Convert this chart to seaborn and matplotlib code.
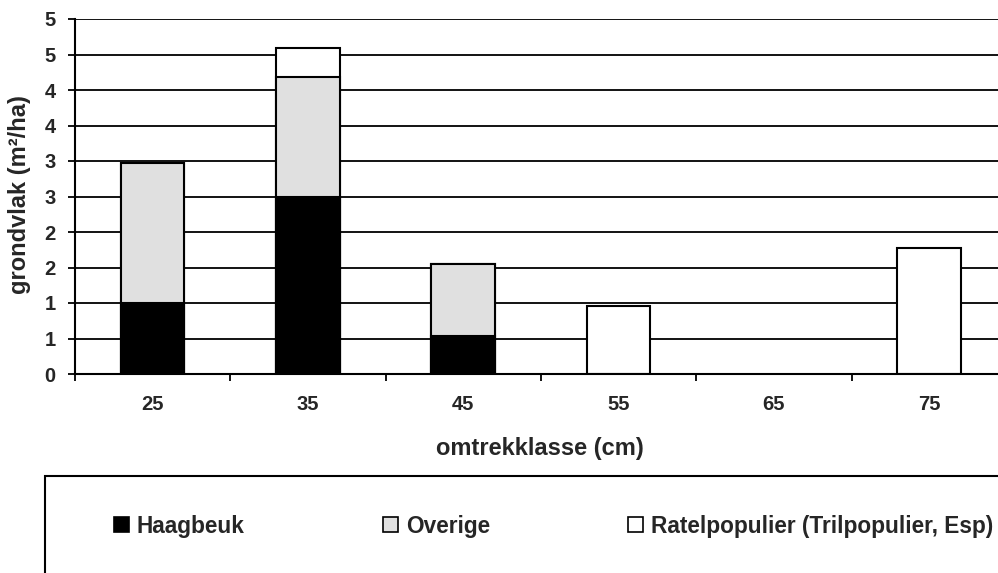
import matplotlib
matplotlib.use("Agg")
import matplotlib.pyplot as plt
import matplotlib.patches as mpatches
import numpy as np
import pandas as pd
import seaborn as sns

# Basal area per girth class, split by species group
classes = ["25", "35", "45", "55", "65", "75"]
haagbeuk = [1.00, 2.50, 0.53, 0.00, 0.00, 0.00]
overige = [1.97, 1.69, 1.02, 0.00, 0.00, 0.00]
ratelpopulier = [0.00, 0.40, 0.00, 0.96, 0.00, 1.77]

series_names = ["Haagbeuk", "Overige", "Ratelpopulier (Trilpopulier, Esp)"]
series_colors = ["#000000", "#E0E0E0", "#FFFFFF"]

y_ticks = [0, 0.5, 1, 1.5, 2, 2.5, 3, 3.5, 4, 4.5, 5]
y_ticklabels = ["0", "1", "1", "2", "2", "3", "3", "4", "4", "5", "5"]

x_title = "omtrekklasse (cm)"
y_title = "grondvlak (m²/ha)"

sns.set_theme(style="white")
plt.rcParams["font.family"] = ["Liberation Sans", "DejaVu Sans"]
plt.rcParams["font.weight"] = "bold"

TICK_FS = 14.5
TITLE_FS = 17
LEGEND_FS = 16.3

W, H = 998, 573
fig = plt.figure(figsize=(W / 100, H / 100), dpi=100)
fig.patch.set_facecolor("white")

# plot area: left edge at x=75, zero line at y=374, top at y=19; right edge runs past the canvas
cat_w = 155.3
left_px, right_px = 75, 75 + 6 * cat_w
top_px, bottom_px = 19, 374
ax = fig.add_axes([left_px / W, 1 - bottom_px / H,
                   (right_px - left_px) / W, (bottom_px - top_px) / H])
ax.set_facecolor("white")

df = pd.DataFrame({
    "klasse": classes,
    "Haagbeuk": haagbeuk,
    "Overige": overige,
    "Ratel": ratelpopulier,
})
# cumulative heights, drawn back to front so each layer covers the one behind it
df["top_ratel"] = df["Haagbeuk"] + df["Overige"] + df["Ratel"]
df["top_overige"] = df["Haagbeuk"] + df["Overige"]
df["top_haag"] = df["Haagbeuk"]

for col, color in zip(["top_ratel", "top_overige", "top_haag"], series_colors[::-1]):
    sns.barplot(data=df, x="klasse", y=col, order=classes, color=color,
                edgecolor="black", linewidth=1.5, width=0.41, saturation=1,
                ax=ax, zorder=3)

# hide zero-height bars so they leave no outline on the axis
for cont in ax.containers:
    for p in cont.patches:
        if p.get_height() <= 0:
            p.set_visible(False)

ax.set_xlim(-0.5, 5.5)
ax.set_ylim(0, 5)
ax.set_yticks(y_ticks)
ax.set_yticklabels(y_ticklabels)
ax.yaxis.grid(True, color="black", linewidth=1.3, zorder=0)
ax.xaxis.grid(False)
ax.set_axisbelow(True)

# category labels in the middle, tick marks on the class boundaries
ax.set_xticks(range(len(classes)))
ax.set_xticklabels(classes)
ax.set_xticks(np.arange(-0.5, 6.0, 1.0), minor=True)
ax.tick_params(axis="x", which="major", length=0, pad=15, labelsize=TICK_FS)
ax.tick_params(axis="x", which="minor", length=5, width=1.3, color="black", direction="out", bottom=True)
ax.tick_params(axis="y", which="major", length=5, width=1.3, color="black", direction="out",
               left=True, pad=9, labelsize=TICK_FS)
for lab in ax.get_xticklabels() + ax.get_yticklabels():
    lab.set_fontweight("bold")

for side in ["top", "right"]:
    ax.spines[side].set_visible(False)
for side in ["left", "bottom"]:
    ax.spines[side].set_visible(True)
    ax.spines[side].set_color("black")
    ax.spines[side].set_linewidth(1.5)
    ax.spines[side].set_zorder(4)

ax.set_xlabel("")
ax.set_ylabel("")
fig.text(540 / W, 1 - 448 / H, x_title, ha="center", va="center",
         fontsize=TITLE_FS, fontweight="bold")
fig.text(20 / W, 1 - 195 / H, y_title, ha="center", va="center", rotation=90,
         fontsize=TITLE_FS, fontweight="bold")

# legend frame runs off the right and bottom of the canvas
frame = mpatches.Rectangle((45 / W, -0.1), 1.1, 1 - 476 / H + 0.1,
                           transform=fig.transFigure, facecolor="none",
                           edgecolor="black", linewidth=1.5)
fig.patches.append(frame)

handles = [mpatches.Patch(facecolor=c, edgecolor="black", linewidth=1.2) for c in series_colors]
fig.legend(handles, series_names, ncol=3, frameon=False,
           loc="center left", bbox_to_anchor=(114 / W, 1 - 526 / H),
           borderpad=0, borderaxespad=0, handlelength=0.66, handleheight=0.66,
           handletextpad=0.35, columnspacing=6.1,
           prop={"family": "Liberation Sans", "weight": "bold", "size": LEGEND_FS})

fig.savefig("out.png", dpi=100, facecolor="white")
